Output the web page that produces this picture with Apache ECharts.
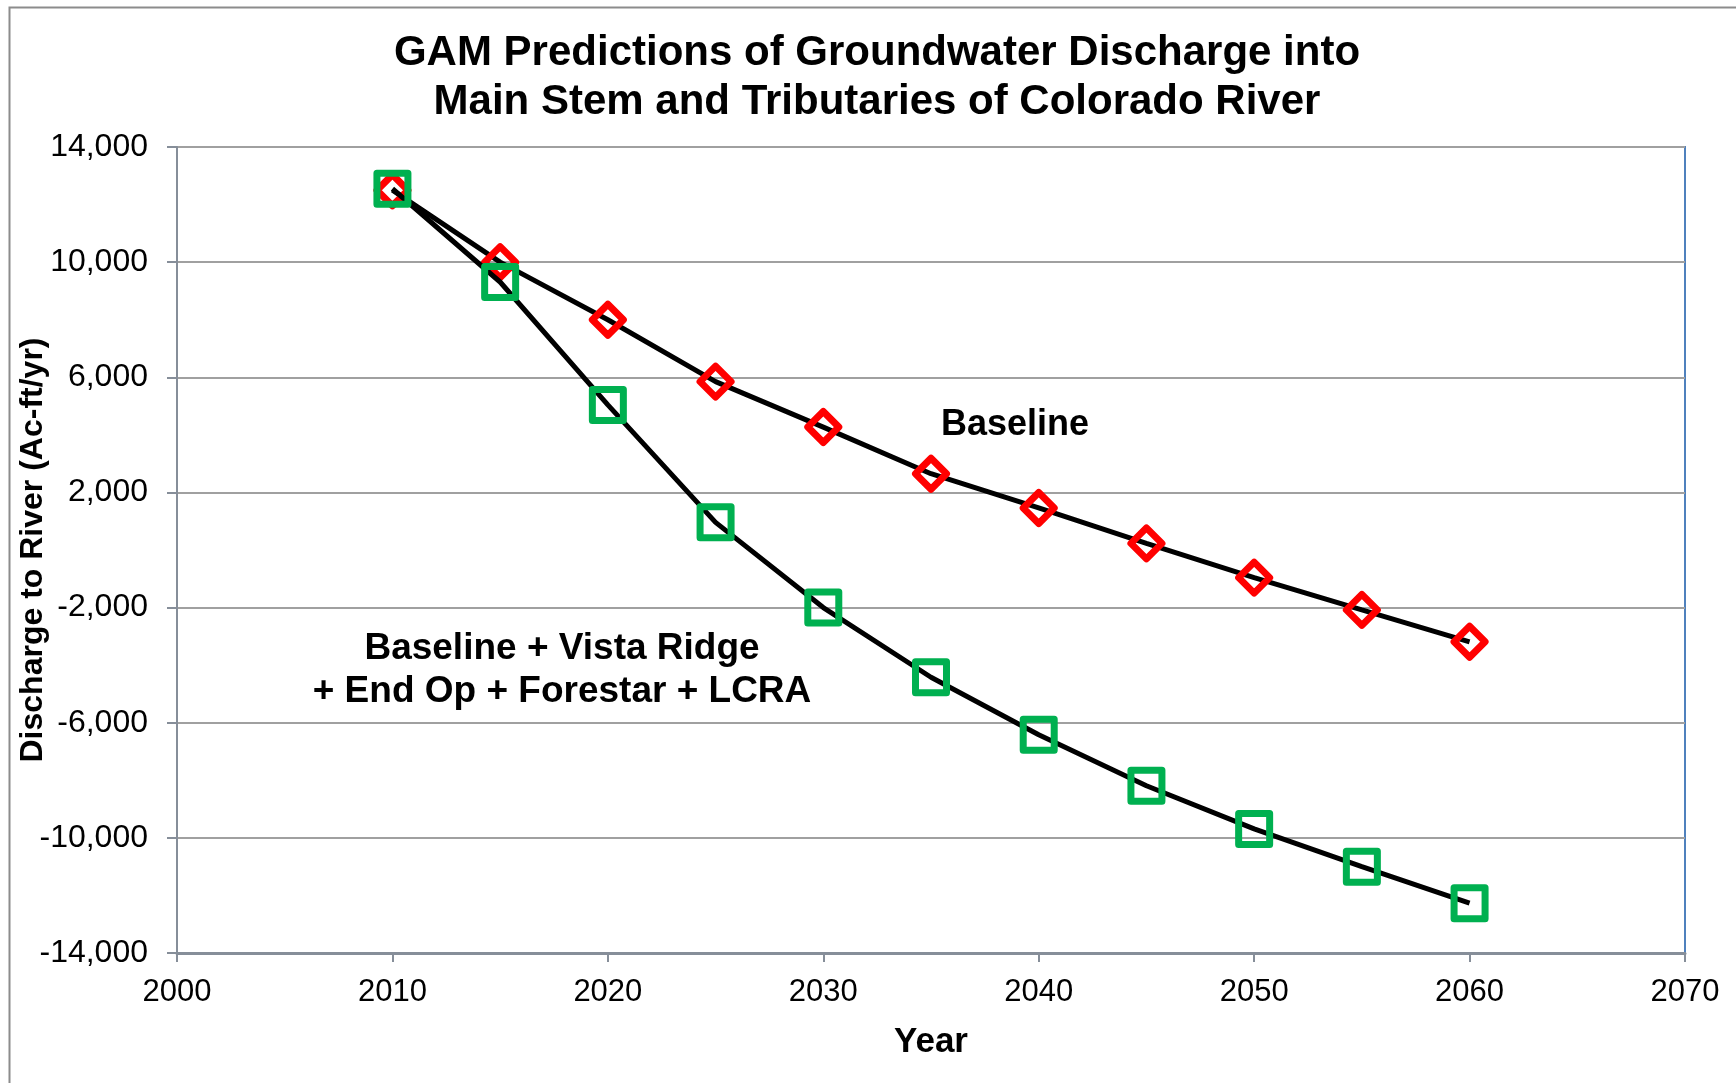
<!DOCTYPE html>
<html>
<head>
<meta charset="utf-8">
<script src="https://cdn.jsdelivr.net/npm/echarts@6/dist/echarts.min.js"></script>
<style>
html,body{margin:0;padding:0;background:#fff;}
#chart{width:1736px;height:1083px;}
</style>
</head>
<body>
<div id="chart"></div>
<script>
const years = [2010, 2015, 2020, 2025, 2030, 2035, 2040, 2045, 2050, 2055, 2060];
const baseline = [12500, 10000, 8000, 5850, 4270, 2650, 1460, 230, -960, -2080, -3190];
const withProjects = [12550, 9310, 5040, 960, -2000, -4420, -6420, -8190, -9690, -11000, -12270];
const titleLines = ['GAM Predictions of Groundwater Discharge into', 'Main Stem and Tributaries of Colorado River'];
const baselineLabel = 'Baseline';
const projectsLabel = ['Baseline + Vista Ridge', '+ End Op + Forestar + LCRA'];

const FONT = '"Liberation Sans", Arial, sans-serif';
const chart = echarts.init(document.getElementById('chart'), null, {renderer: 'canvas'});

const pair = (xs, ys) => xs.map((x, i) => [x, ys[i]]);

chart.setOption({
  backgroundColor: '#fff',
  animation: false,
  title: {
    text: titleLines.join('\n'),
    left: 872, top: 24, textAlign: 'center',
    textStyle: {fontFamily: FONT, fontWeight: 'bold', fontSize: 42, lineHeight: 49, color: '#000'}
  },
  grid: {left: 177, right: 51, top: 147, bottom: 130, containLabel: false, outerBoundsMode: 'none',
    show: true, borderColor: '#4F81BD', borderWidth: 2, backgroundColor: 'transparent'},
  xAxis: {
    type: 'value', min: 2000, max: 2070, interval: 10,
    name: 'Year', nameLocation: 'middle', nameGap: 72, nameMoveOverlap: false,
    nameTextStyle: {fontFamily: FONT, fontWeight: 'bold', fontSize: 35, color: '#000'},
    axisLine: {show: true, onZero: false, lineStyle: {color: '#868E99', width: 3}},
    axisTick: {show: true, inside: false, length: 9, lineStyle: {color: '#868E99', width: 2}},
    axisLabel: {fontFamily: FONT, fontSize: 31, color: '#000', margin: 24, formatter: v => String(v)},
    splitLine: {show: false}
  },
  yAxis: {
    type: 'value', min: -14000, max: 14000, interval: 4000,
    name: 'Discharge to River (Ac-ft/yr)', nameLocation: 'middle', nameGap: 128, nameRotate: 90,
    nameMoveOverlap: false,
    nameTextStyle: {fontFamily: FONT, fontWeight: 'bold', fontSize: 32, color: '#000'},
    axisLine: {show: true, onZero: false, lineStyle: {color: '#868E99', width: 2}},
    axisTick: {show: true, inside: false, length: 10, lineStyle: {color: '#868E99', width: 2}},
    axisLabel: {fontFamily: FONT, fontSize: 32, color: '#000', margin: 29,
      formatter: v => v.toLocaleString('en-US')},
    splitLine: {show: true, lineStyle: {color: '#A0A0A0', width: 2}}
  },
  series: [
    {
      type: 'line', data: pair(years, baseline), z: 3,
      symbol: 'diamond', symbolSize: 31,
      lineStyle: {color: '#000', width: 5},
      itemStyle: {color: 'rgba(0,0,0,0)', borderColor: '#FF0000', borderWidth: 7, borderJoin: 'round'}
    },
    {
      type: 'line', data: pair(years, withProjects), z: 4,
      symbol: 'rect', symbolSize: 31,
      lineStyle: {color: '#000', width: 5},
      itemStyle: {color: 'rgba(0,0,0,0)', borderColor: '#00B050', borderWidth: 7, borderJoin: 'round'}
    }
  ],
  graphic: [
    {type: 'rect', left: 7, top: 5, shape: {width: 1800, height: 1200}, silent: true, z: -10,
      style: {fill: 'none', stroke: '#8C8C8C', lineWidth: 2}},
    {type: 'text', x: 1015, y: 425, z: 10,
      style: {text: baselineLabel, font: 'bold 36px ' + FONT, fill: '#000', textAlign: 'center', textVerticalAlign: 'middle'}},
    {type: 'text', x: 562, y: 670, z: 10,
      style: {text: projectsLabel.join('\n'), font: 'bold 37px ' + FONT, lineHeight: 43, fill: '#000', textAlign: 'center', textVerticalAlign: 'middle'}}
  ]
});
</script>
</body>
</html>
